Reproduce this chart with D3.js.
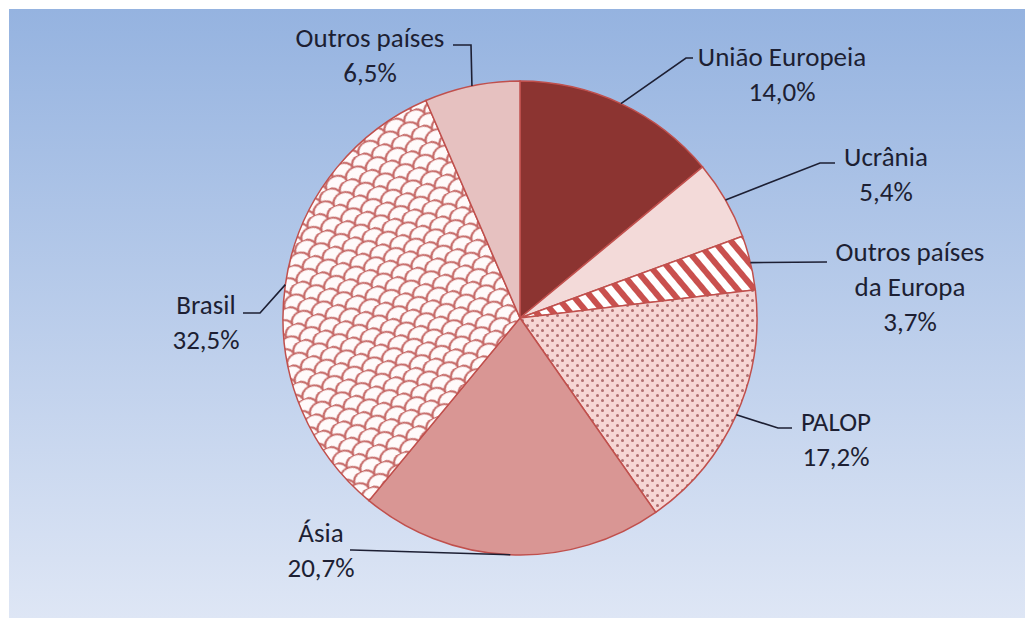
<!DOCTYPE html>
<html>
<head>
<meta charset="utf-8">
<script src="https://cdn.jsdelivr.net/npm/d3@7"></script>
<style>
  body { margin: 0; background: #fff; }
  text { font-family: Carlito, Calibri, "Open Sans", sans-serif; fill: #1d1f33; }
</style>
</head>
<body>
<svg id="chart"></svg>
<script>
// data
const categories = ['União Europeia', 'Ucrânia', 'Outros países da Europa', 'PALOP', 'Ásia', 'Brasil', 'Outros países'];
const values = [14.0, 5.4, 3.7, 17.2, 20.7, 32.5, 6.5];
const labelLines = [
    ['União Europeia', '14,0%'],
    ['Ucrânia', '5,4%'],
    ['Outros países', 'da Europa', '3,7%'],
    ['PALOP', '17,2%'],
    ['Ásia', '20,7%'],
    ['Brasil', '32,5%'],
    ['Outros países', '6,5%']
];

// layout for labels: text centre x, first line y, leader elbow x/y, leader end x
const labelLayout = [
    { tx: 782, ty: 57, ex: 686, ey: 58, hx: 693 },
    { tx: 886, ty: 157, ex: 820, ey: 163, hx: 835 },
    { tx: 910, ty: 252, ex: 827, ey: 262, hx: 827 },
    { tx: 836, ty: 422, ex: 778, ey: 428, hx: 792 },
    { tx: 321, ty: 533, ex: 352, ey: 550, hx: 350 },
    { tx: 206, ty: 305, ex: 260, ey: 313, hx: 243 },
    { tx: 370, ty: 38, ex: 471, ey: 45, hx: 453 }
];
const fills = ['#8c3431', '#f3dad9', 'url(#stripes)', 'url(#dots)', '#d99694', 'url(#scales)', '#e6c1c0'];

const width = 1025, height = 620;
const cx = 520, cy = 318, radius = 237;

const svg = d3.select('#chart')
    .attr('width', width)
    .attr('height', height);

const defs = svg.append('defs');

const grad = defs.append('linearGradient')
    .attr('id', 'bg')
    .attr('x1', 0).attr('y1', 0).attr('x2', 0).attr('y2', 1);
grad.append('stop').attr('offset', '0%').attr('stop-color', '#95b3e0');
grad.append('stop').attr('offset', '100%').attr('stop-color', '#dee6f5');

// diagonal stripes
const stripes = defs.append('pattern')
    .attr('id', 'stripes')
    .attr('patternUnits', 'userSpaceOnUse')
    .attr('width', 13).attr('height', 13)
    .attr('patternTransform', 'rotate(-40)');
stripes.append('rect').attr('width', 13).attr('height', 13).attr('fill', '#ffffff');
stripes.append('rect').attr('width', 6).attr('height', 13).attr('fill', '#c9504e');

// dotted
const dots = defs.append('pattern')
    .attr('id', 'dots')
    .attr('patternUnits', 'userSpaceOnUse')
    .attr('width', 10).attr('height', 10);
dots.append('rect').attr('width', 10).attr('height', 10).attr('fill', '#f6d6d4');
dots.append('circle').attr('cx', 2.5).attr('cy', 2.5).attr('r', 1.5).attr('fill', '#b06e70');
dots.append('circle').attr('cx', 7.5).attr('cy', 7.5).attr('r', 1.5).attr('fill', '#b06e70');

// scale pattern
const scales = defs.append('pattern')
    .attr('id', 'scales')
    .attr('patternUnits', 'userSpaceOnUse')
    .attr('width', 22).attr('height', 18)
    .attr('patternTransform', 'rotate(-25)');
scales.append('rect').attr('width', 22).attr('height', 18).attr('fill', '#fffafa');
scales.append('path')
    .attr('d', 'M0,9 A11,9 0 0 1 22,9 M-11,18 A11,9 0 0 1 11,18 M11,18 A11,9 0 0 1 33,18 M-11,0 A11,9 0 0 1 11,0 M11,0 A11,9 0 0 1 33,0')
    .attr('fill', 'none')
    .attr('stroke', '#c66a68')
    .attr('stroke-width', 2);

svg.append('rect')
    .attr('x', 9).attr('y', 9)
    .attr('width', width - 9).attr('height', height - 11)
    .attr('fill', 'url(#bg)');

const pie = d3.pie().sort(null).value(d => d)
    .startAngle(0).endAngle(2 * Math.PI);
const arcs = pie(values);

const arc = d3.arc().innerRadius(0).outerRadius(radius);

const g = svg.append('g').attr('transform', `translate(${cx}, ${cy})`);

g.selectAll('.slice')
    .data(arcs)
    .join('path')
    .attr('class', 'slice')
    .attr('d', arc)
    .attr('fill', (d, i) => fills[i])
    .attr('stroke', '#c0504d')
    .attr('stroke-width', 1.5);

// leader lines
const edge = d => {
    const a = (d.startAngle + d.endAngle) / 2;
    return [cx + radius * Math.sin(a), cy - radius * Math.cos(a)];
};

svg.selectAll('.leader')
    .data(arcs)
    .join('polyline')
    .attr('class', 'leader')
    .attr('points', (d, i) => {
        const p = edge(d), l = labelLayout[i];
        return [p, [l.ex, l.ey], [l.hx, l.ey]].map(q => q.join(',')).join(' ');
    })
    .attr('fill', 'none')
    .attr('stroke', '#1d1f33')
    .attr('stroke-width', 1.6);

const labels = svg.selectAll('.label')
    .data(arcs)
    .join('text')
    .attr('class', 'label')
    .attr('text-anchor', 'middle')
    .attr('font-size', 27);

labels.selectAll('tspan')
    .data((d, i) => labelLines[i].map((t, k) => ({ t, k, i })))
    .join('tspan')
    .attr('x', d => labelLayout[d.i].tx)
    .attr('y', d => labelLayout[d.i].ty + d.k * 35)
    .attr('dy', '0.35em')
    .text(d => d.t);
</script>
</body>
</html>
